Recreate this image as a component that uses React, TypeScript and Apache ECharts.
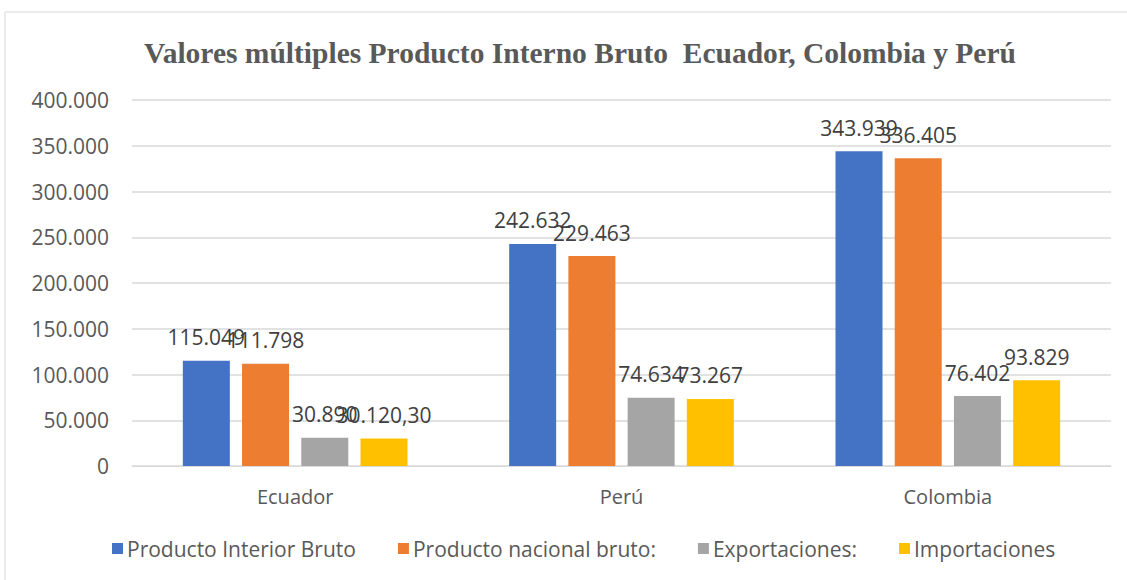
import React, { useEffect, useRef } from "react";
import * as echarts from "echarts";

const categories = ["Ecuador", "Perú", "Colombia"];
const seriesNames = ["Producto Interior Bruto", "Producto nacional bruto:", "Exportaciones:", "Importaciones"];
const pib = [115049, 242632, 343939];
const pnb = [111798, 229463, 336405];
const exportaciones = [30890, 74634, 76402];
const importaciones = [30120.3, 73267, 93829];
const labelsPib = ["115.049", "242.632", "343.939"];
const labelsPnb = ["111.798", "229.463", "336.405"];
const labelsExp = ["30.890", "74.634", "76.402"];
const labelsImp = ["30.120,30", "73.267", "93.829"];
const colors = ["#4472C4", "#ED7D31", "#A5A5A5", "#FFC000"];

function fmt(v: number): string {
  if (v === 0) return "0";
  return Math.round(v).toString().replace(/\B(?=(\d{3})+(?!\d))/g, ".");
}

export default function App() {
  const ref = useRef<HTMLDivElement>(null);
  useEffect(() => {
    document.body.style.margin = "0";
    const chart = echarts.init(ref.current!, null, { renderer: "svg" });
    const values = [pib, pnb, exportaciones, importaciones];
    const labels = [labelsPib, labelsPnb, labelsExp, labelsImp];
    chart.setOption({
      animation: false,
      backgroundColor: "#ffffff",
      color: colors,
      title: {
        text: "Valores múltiples Producto Interno Bruto  Ecuador, Colombia y Perú",
        left: 575,
        textAlign: "center",
        top: 33,
        textStyle: {
          fontFamily: "Liberation Serif",
          fontWeight: "bold",
          fontSize: 29.5,
          color: "#595959",
        },
      },
      graphic: [
        {
          type: "rect",
          shape: { x: 5, y: 12, width: 1140, height: 600 },
          style: { fill: "none", stroke: "#d9d9d9", lineWidth: 1 },
          silent: true,
        },
      ],
      grid: { left: 132, right: 16, top: 100, bottom: 114, containLabel: false },
      legend: {
        bottom: 16,
        left: 107,
        itemWidth: 11,
        itemHeight: 11,
        itemGap: 42,
        icon: "rect",
        textStyle: { fontFamily: "Open Sans", fontSize: 21, color: "#595959", padding: [0, 0, 0, -1] },
        data: seriesNames,
      },
      xAxis: {
        type: "category",
        data: categories,
        axisLine: { lineStyle: { color: "#d9d9d9" } },
        axisTick: { show: false },
        axisLabel: { fontFamily: "Open Sans", fontSize: 20, color: "#595959", margin: 20 },
      },
      yAxis: {
        type: "value",
        min: 0,
        max: 400000,
        interval: 50000,
        axisLine: { show: false },
        axisTick: { show: false },
        splitLine: { lineStyle: { color: "#d9d9d9", width: 1.5 } },
        axisLabel: {
          fontFamily: "Open Sans",
          fontSize: 21,
          color: "#595959",
          margin: 23,
          formatter: (v: number) => fmt(v),
        },
      },
      series: seriesNames.map((name, i) => ({
        name,
        type: "bar",
        barWidth: 47,
        barGap: "26%",
        data: values[i],
        itemStyle: { color: colors[i] },
        label: {
          show: true,
          position: "top",
          distance: 13,
          fontFamily: "Open Sans",
          fontSize: 21,
          color: "#404040",
          formatter: (p: any) => labels[i][p.dataIndex],
        },
      })),
    });
    return () => chart.dispose();
  }, []);
  return <div ref={ref} style={{ width: 1127, height: 580 }} />;
}
